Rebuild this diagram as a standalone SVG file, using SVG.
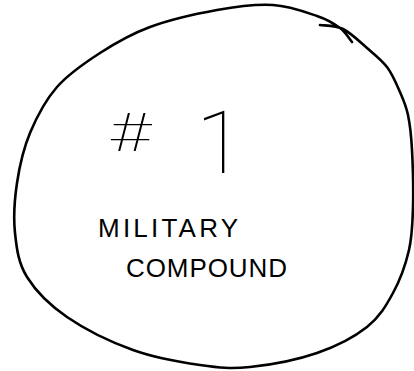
<svg xmlns="http://www.w3.org/2000/svg" width="414" height="371" viewBox="0 0 414 371">
<style>
.ink{fill:none;stroke:#000;stroke-width:2.6;stroke-linecap:round;stroke-linejoin:round}
.big{font-family:Roboto,"Liberation Sans",sans-serif;font-weight:100;fill:#000}
.lbl{font-family:"Liberation Sans",Arial,sans-serif;font-size:26px;fill:#000}
</style>
<rect width="414" height="371" fill="#fff"/>
<g id="compound">
<path class="ink" d="M320,25 C323.8,25.7 335.2,25.2 343,29 C350.8,32.8 359.7,41.7 367,48 C374.3,54.3 381.5,59.7 387,67 C392.5,74.3 396.5,84 400,92 C403.5,100 406,105.3 408,115 C410,124.7 411.2,134.7 412,150 C412.8,165.3 413.5,190.3 413,207 C412.5,223.7 412.3,235.7 409,250 C405.7,264.3 400,280.2 393,293 C386,305.8 379.7,317 367,327 C354.3,337 336.5,346.3 317,353 C297.5,359.7 269.5,365 250,367 C230.5,369 219.5,367.8 200,365 C180.5,362.2 155.2,358 133,350 C110.8,342 84.7,329.2 67,317 C49.3,304.8 35.7,291 27,277 C18.3,263 16.7,248.7 15,233 C13.3,217.3 14.5,199.7 17,183 C19.5,166.3 23.3,149 30,133 C36.7,117 45.3,100.3 57,87 C68.7,73.7 84.5,63 100,53 C115.5,43 130.5,34.2 150,27 C169.5,19.8 196.5,13.7 217,10 C237.5,6.3 256.3,4 273,5 C289.7,6 305.8,12.2 317,16 C328.2,19.8 334.2,23.7 340,28 C345.8,32.3 350,39.7 352,42"/>
<text class="big" transform="translate(109,151) scale(1.4,1)" font-size="54" font-weight="300">#</text>
<text class="big" x="196" y="173" font-size="88" font-weight="200">1</text>
<text class="lbl" x="98" y="237" textLength="140" lengthAdjust="spacing">MILITARY</text>
<text class="lbl" x="126" y="277" textLength="161" lengthAdjust="spacing">COMPOUND</text>
</g>
</svg>
